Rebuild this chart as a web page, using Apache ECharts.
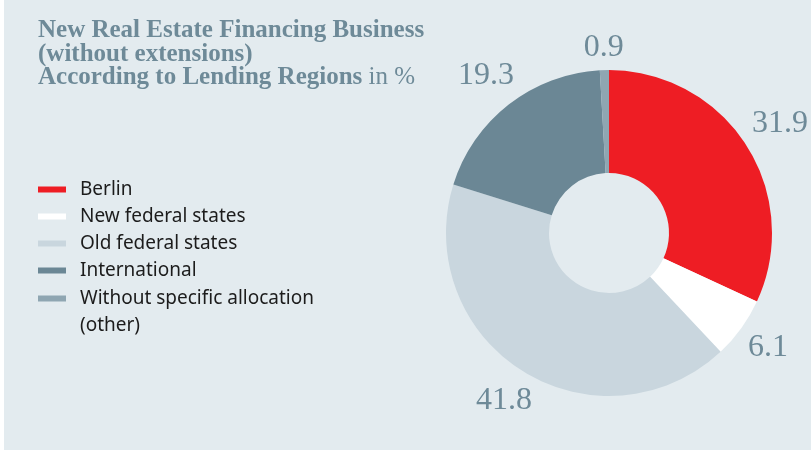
<!DOCTYPE html>
<html>
<head>
<meta charset="utf-8">
<script src="https://cdn.jsdelivr.net/npm/echarts@6/dist/echarts.min.js"></script>
<style>
  html, body { margin: 0; padding: 0; background: #fff; }
  #main { width: 811px; height: 450px; }
</style>
</head>
<body>
<div id="main"></div>
<script>
// data (in %)
var regions = ['Berlin', 'New federal states', 'Old federal states', 'International', 'Without specific allocation']
var shares = [31.9, 6.1, 41.8, 19.3, 0.9]
var colors = ['#ee1d24', '#ffffff', '#c9d6de', '#6b8795', '#8fa6b2']

var center = [609, 233]
var outerRadius = 163
var labelGap = 10

// angle (clockwise from 12 o'clock) of the middle of each slice
var total = shares.reduce(function (a, b) { return a + b }, 0)
var midAngles = []
var acc = 0
for (var i = 0; i < shares.length; i++) {
  midAngles.push((acc + shares[i] / 2) / total * Math.PI * 2)
  acc += shares[i]
}

var chart = echarts.init(document.getElementById('main'))

var legendText = { fontFamily: 'Noto Sans', fontSize: 19, color: '#1c1c1c', lineHeight: 27, padding: [0, 0, 0, 9] }

var option = {
  backgroundColor: '#e3ebef',
  animation: false,
  color: colors,
  title: {
    left: 38,
    top: 19,
    padding: 0,
    text: '{b|New Real Estate Financing Business}\n{b|(without extensions)}\n{b|According to Lending Regions}{n| in %}',
    textStyle: {
      rich: {
        b: { fontFamily: 'Liberation Serif', fontWeight: 'bold', fontSize: 25, lineHeight: 23.5, color: '#6e8a98' },
        n: { fontFamily: 'Liberation Serif', fontWeight: 'normal', fontSize: 25, lineHeight: 23.5, color: '#6e8a98' }
      }
    }
  },
  legend: [
    {
      data: regions.slice(0, 4),
      orient: 'vertical',
      left: 38,
      top: 176,
      padding: 0,
      itemGap: 0,
      itemWidth: 28,
      itemHeight: 6,
      icon: 'rect',
      selectedMode: false,
      textStyle: legendText
    },
    {
      // two-line item: the empty first line keeps the marker beside "Without ..."
      data: regions.slice(4),
      orient: 'vertical',
      left: 38,
      top: 258,
      padding: 0,
      itemWidth: 28,
      itemHeight: 6,
      icon: 'rect',
      selectedMode: false,
      formatter: function (name) { return ' \n' + name + '\n(other)' },
      textStyle: legendText
    }
  ],
  graphic: [
    { type: 'rect', shape: { x: 0, y: 0, width: 4, height: 450 }, style: { fill: '#ffffff' } }
  ],
  series: [
    {
      type: 'pie',
      center: center,
      radius: [60, outerRadius],
      startAngle: 90,
      clockwise: true,
      avoidLabelOverlap: false,
      emphasis: { disabled: true },
      data: regions.map(function (name, i) { return { name: name, value: shares[i] } }),
      label: {
        show: true,
        position: 'outside',
        formatter: function (p) { return p.value.toFixed(1) },
        fontFamily: 'Liberation Serif',
        fontSize: 32,
        color: '#6e8a98'
      },
      labelLine: { show: false },
      labelLayout: function (params) {
        // put the label box just outside the ring, along the slice's middle
        var a = midAngles[params.dataIndex]
        var s = Math.sin(a), c = Math.cos(a)
        var hw = params.labelRect.width / 2, hh = params.labelRect.height / 2 * 0.75
        var d = outerRadius + labelGap + Math.abs(s) * hw + Math.abs(c) * hh
        return {
          x: center[0] + d * s,
          y: center[1] - d * c,
          align: 'center',
          verticalAlign: 'middle'
        }
      }
    }
  ]
}

chart.setOption(option)
</script>
</body>
</html>
